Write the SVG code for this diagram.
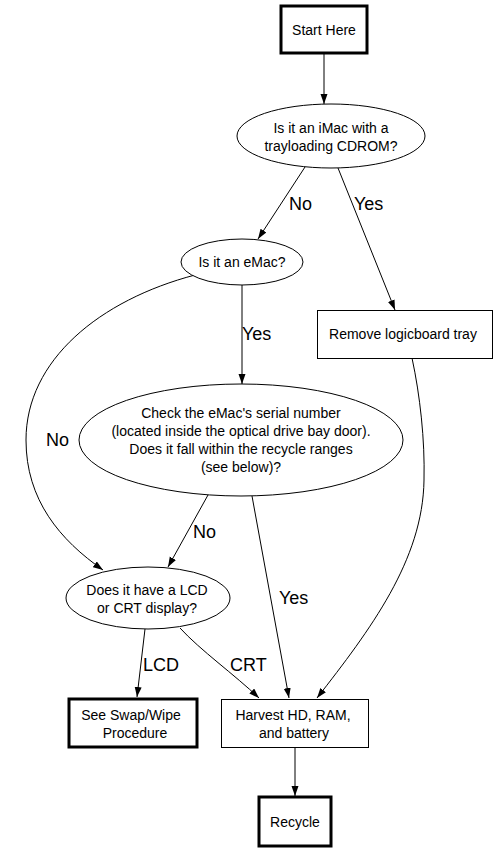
<svg xmlns="http://www.w3.org/2000/svg" width="496" height="851" viewBox="0 0 496 851">
<style>
.n{fill:#fff;stroke:#000;stroke-width:1}
.b{fill:#fff;stroke:#000;stroke-width:3}
.t{font-family:"Liberation Sans",Arial,sans-serif;font-size:14px;fill:#000;text-anchor:middle}
.l{font-family:"Liberation Sans",Arial,sans-serif;font-size:18px;fill:#000}
.e{fill:none;stroke:#000;stroke-width:1;marker-end:url(#a)}
</style>
<defs>
<marker id="a" markerUnits="userSpaceOnUse" markerWidth="11" markerHeight="8" refX="10" refY="3.5" orient="auto">
<path d="M0,0 L10,3.5 L0,7 z" fill="#000"/>
</marker>
</defs>
<rect width="496" height="851" fill="#fff"/>
<g id="edges">
<path class="e" d="M324,53 L324,104"/>
<path class="e" d="M305,167 L258,239"/>
<path class="e" d="M338,168 L395,310"/>
<path class="e" d="M242,285 L242,384"/>
<path class="e" d="M195,275 C100,300 26,360 26,440 C26,500 60,540 103,570"/>
<path class="e" d="M208,495 L168,567"/>
<path class="e" d="M252,496 L289,698"/>
<path class="e" d="M412,358 C420,395 425,440 424,480 C423,560 370,630 317,698"/>
<path class="e" d="M145,629 L137,697"/>
<path class="e" d="M180,628 C200,650 235,675 259,698"/>
<path class="e" d="M295,747 L295,796"/>
</g>
<g id="edge-labels">
<text class="l" x="289" y="210">No</text>
<text class="l" x="354" y="210">Yes</text>
<text class="l" x="242" y="340">Yes</text>
<text class="l" x="46" y="446">No</text>
<text class="l" x="193" y="538">No</text>
<text class="l" x="279" y="604">Yes</text>
<text class="l" x="143" y="671">LCD</text>
<text class="l" x="230" y="671">CRT</text>
</g>
<g id="start">
<rect class="b" x="281" y="6" width="86" height="47"/>
<text class="t" x="324" y="35">Start Here</text>
</g>
<g id="imac">
<ellipse class="n" cx="331" cy="136" rx="94" ry="32"/>
<text class="t" x="331" y="133">Is it an iMac with a</text>
<text class="t" x="331" y="151">trayloading CDROM?</text>
</g>
<g id="emac">
<ellipse class="n" cx="242" cy="262" rx="61" ry="23"/>
<text class="t" x="242" y="267">Is it an eMac?</text>
</g>
<g id="remove">
<rect class="n" x="317.5" y="310.5" width="175" height="48"/>
<text class="t" x="403" y="339">Remove logicboard tray</text>
</g>
<g id="check">
<ellipse class="n" cx="241" cy="440" rx="162" ry="56"/>
<text class="t" x="241" y="418">Check the eMac's serial number</text>
<text class="t" x="241" y="436">(located inside the optical drive bay door).</text>
<text class="t" x="241" y="454">Does it fall within the recycle ranges</text>
<text class="t" x="241" y="472">(see below)?</text>
</g>
<g id="display">
<ellipse class="n" cx="148" cy="598" rx="82" ry="31"/>
<text class="t" x="147" y="595">Does it have a LCD</text>
<text class="t" x="147" y="613">or CRT display?</text>
</g>
<g id="swap">
<rect class="b" x="69" y="699" width="128" height="48"/>
<text class="t" x="131" y="720">See Swap/Wipe</text>
<text class="t" x="135" y="738">Procedure</text>
</g>
<g id="harvest">
<rect class="n" x="221.5" y="699.5" width="147" height="48"/>
<text class="t" x="293" y="720">Harvest HD, RAM,</text>
<text class="t" x="294" y="738">and battery</text>
</g>
<g id="recycle">
<rect class="b" x="259" y="797" width="72" height="49"/>
<text class="t" x="295" y="827">Recycle</text>
</g>
</svg>
